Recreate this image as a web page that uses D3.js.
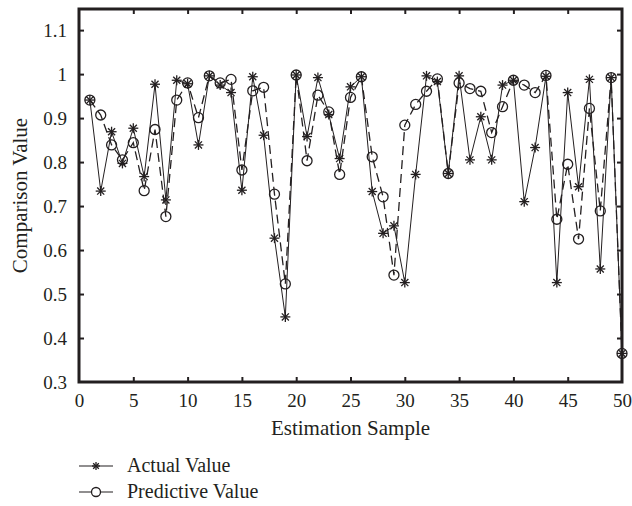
<!DOCTYPE html>
<html>
<head>
<meta charset="utf-8">
<script src="https://cdn.jsdelivr.net/npm/d3@7/dist/d3.min.js"></script>
<style>
  html, body { margin: 0; padding: 0; background: #fff; }
  svg text { font-family: 'Liberation Serif', 'DejaVu Serif', 'Times New Roman', Times, serif !important; fill: #231f20; }
</style>
</head>
<body>
<svg id="chart" width="632" height="506"></svg>
<script>
// Estimation samples 1..50
const samples = d3.range(1, 51);

const actualValues = [
  0.941, 0.734, 0.869, 0.797, 0.877, 0.767, 0.977, 0.714, 0.986, 0.978,
  0.839, 0.996, 0.975, 0.958, 0.736, 0.994, 0.861, 0.627, 0.448, 0.998,
  0.858, 0.992, 0.908, 0.808, 0.971, 0.994, 0.733, 0.638, 0.655, 0.526,
  0.772, 0.996, 0.983, 0.774, 0.996, 0.805, 0.903, 0.805, 0.975, 0.986,
  0.710, 0.833, 0.995, 0.526, 0.958, 0.744, 0.988, 0.557, 0.992, 0.365
];

const predictiveValues = [
  0.941, 0.907, 0.839, 0.805, 0.844, 0.735, 0.874, 0.676, 0.941, 0.980,
  0.901, 0.996, 0.980, 0.988, 0.782, 0.962, 0.970, 0.727, 0.523, 0.998,
  0.803, 0.952, 0.914, 0.772, 0.947, 0.994, 0.812, 0.721, 0.543, 0.884,
  0.931, 0.961, 0.989, 0.774, 0.980, 0.967, 0.961, 0.867, 0.926, 0.986,
  0.975, 0.958, 0.997, 0.670, 0.795, 0.625, 0.922, 0.689, 0.992, 0.365
];

const xTicks = [0, 5, 10, 15, 20, 25, 30, 35, 40, 45, 50];
const yTicks = [0.3, 0.4, 0.5, 0.6, 0.7, 0.8, 0.9, 1.0, 1.1];
const seriesNames = ["Actual Value", "Predictive Value"];

const ink = "#231f20";
const serif = "'Liberation Serif', 'DejaVu Serif', 'Times New Roman', serif";
const svg = d3.select("#chart");
const margin = { left: 79, right: 10, top: 9, bottom: 124 };
const W = 632, H = 506;
const plotW = W - margin.left - margin.right;
const plotH = H - margin.top - margin.bottom;

const x = d3.scaleLinear().domain([0, 50]).range([margin.left, margin.left + plotW]);
const y = d3.scaleLinear().domain([0.3, 1.148]).range([margin.top + plotH, margin.top]);
const fmtY = d3.format("~g");

// Axes with inward ticks on all four sides
const tickLen = 5;
const bottomAxis = svg.append("g")
  .attr("transform", `translate(0,${y.range()[0]})`)
  .call(d3.axisBottom(x).tickValues(xTicks).tickSizeInner(-tickLen).tickSizeOuter(0).tickPadding(12));
const topAxis = svg.append("g")
  .attr("transform", `translate(0,${y.range()[1]})`)
  .call(d3.axisTop(x).tickValues(xTicks).tickSizeInner(-tickLen).tickSizeOuter(0).tickFormat(""));
const leftAxis = svg.append("g")
  .attr("transform", `translate(${x.range()[0]},0)`)
  .call(d3.axisLeft(y).tickValues(yTicks).tickSizeInner(-tickLen).tickSizeOuter(0).tickPadding(12).tickFormat(fmtY));
const rightAxis = svg.append("g")
  .attr("transform", `translate(${x.range()[1]},0)`)
  .call(d3.axisRight(y).tickValues(yTicks).tickSizeInner(-tickLen).tickSizeOuter(0).tickFormat(""));

[bottomAxis, topAxis, leftAxis, rightAxis].forEach(g => {
  g.attr("font-family", serif);
  g.select(".domain").remove();
  g.selectAll(".tick line").attr("stroke", ink).attr("stroke-width", 2);
  g.selectAll(".tick text").attr("font-size", 19).style("font-family", serif).attr("fill", ink);
});
// tick marks at the extremes coincide with the frame
bottomAxis.selectAll(".tick").filter(d => d === 0 || d === 50).select("line").remove();
topAxis.selectAll(".tick").filter(d => d === 0 || d === 50).select("line").remove();
leftAxis.selectAll(".tick").filter(d => d === 0.3).select("line").remove();
rightAxis.selectAll(".tick").filter(d => d === 0.3).select("line").remove();

// Frame
svg.append("rect")
  .attr("x", x.range()[0]).attr("y", y.range()[1])
  .attr("width", plotW).attr("height", plotH)
  .attr("fill", "none").attr("stroke", ink).attr("stroke-width", 3);

// Series lines
const lineGen = vals => d3.line().x((d, i) => x(samples[i])).y(d => y(d))(vals);

svg.append("path")
  .attr("d", lineGen(predictiveValues))
  .attr("fill", "none").attr("stroke", ink).attr("stroke-width", 1.3)
  .attr("stroke-dasharray", "9,5");

svg.append("path")
  .attr("d", lineGen(actualValues))
  .attr("fill", "none").attr("stroke", ink).attr("stroke-width", 1);

// Markers
function star(g, cx, cy, r) {
  [0, 45, 90, 135].forEach(deg => {
    const t = deg * Math.PI / 180;
    g.append("line")
      .attr("x1", cx - r * Math.cos(t)).attr("y1", cy - r * Math.sin(t))
      .attr("x2", cx + r * Math.cos(t)).attr("y2", cy + r * Math.sin(t))
      .attr("stroke", ink).attr("stroke-width", 1.3);
  });
}

const circles = svg.append("g");
predictiveValues.forEach((v, i) => {
  circles.append("circle")
    .attr("cx", x(samples[i])).attr("cy", y(v)).attr("r", 5)
    .attr("fill", "none").attr("stroke", ink).attr("stroke-width", 1.3);
});
const stars = svg.append("g");
actualValues.forEach((v, i) => star(stars, x(samples[i]), y(v), 5));

// Axis titles
svg.append("text")
  .attr("x", (x.range()[0] + x.range()[1]) / 2)
  .attr("y", 435)
  .attr("text-anchor", "middle")
  .attr("font-size", 21)
  .style("font-family", serif)
  .text("Estimation Sample");

svg.append("text")
  .attr("transform", `translate(27,${(y.range()[0] + y.range()[1]) / 2}) rotate(-90)`)
  .attr("text-anchor", "middle")
  .attr("font-size", 21)
  .style("font-family", serif)
  .text("Comparison Value");

// Legend
const legend = svg.append("g");
const legendRows = [466, 492];
seriesNames.forEach((name, k) => {
  const ly = legendRows[k];
  legend.append("line")
    .attr("x1", 79).attr("x2", 113).attr("y1", ly).attr("y2", ly)
    .attr("stroke", ink).attr("stroke-width", 1.2);
  if (k === 0) {
    star(legend, 96, ly, 4);
  } else {
    legend.append("circle").attr("cx", 96).attr("cy", ly).attr("r", 4.5)
      .attr("fill", "#fff").attr("stroke", ink).attr("stroke-width", 1.3);
  }
  legend.append("text")
    .attr("x", 127).attr("y", ly + 6)
    .attr("font-size", 20)
    .style("font-family", serif)
    .text(name);
});
</script>
</body>
</html>
